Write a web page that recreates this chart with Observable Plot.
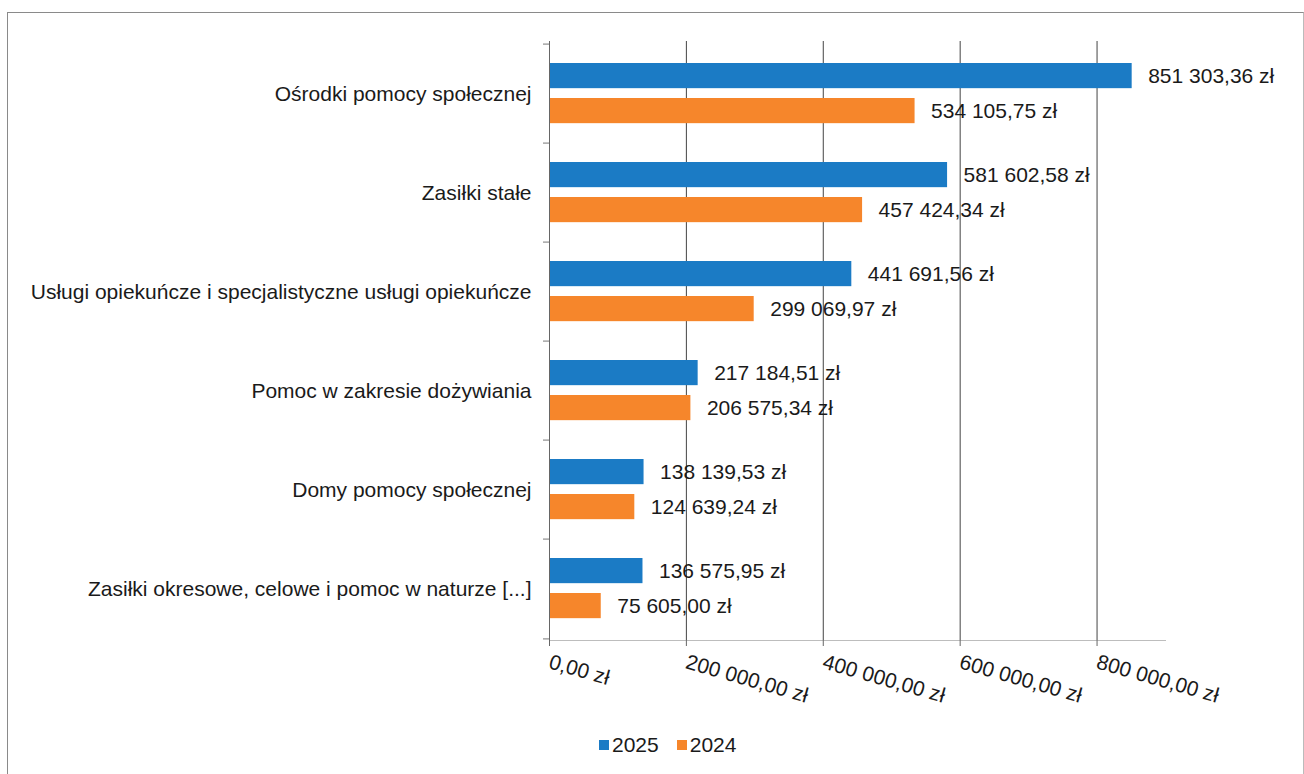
<!DOCTYPE html>
<html>
<head>
<meta charset="utf-8">
<script src="https://cdn.jsdelivr.net/npm/d3@7"></script>
<script src="https://cdn.jsdelivr.net/npm/@observablehq/plot@0.6"></script>
<style>
  html, body { margin: 0; padding: 0; background: #fff; }
  body { width: 1304px; height: 774px; position: relative; overflow: hidden; font-family: "Liberation Sans", Arial, sans-serif; }
  #border { position: absolute; left: 7px; top: 12px; width: 1295px; height: 800px; border-left: 1px solid #8a8a8a; border-top: 1px solid #8a8a8a; border-right: 1px solid #bbb; }
  #chart { position: absolute; left: 0; top: 0; }
  #legend { position: absolute; left: 599px; top: 732px; display: flex; gap: 18px; font-size: 21px; line-height: 26px; color: #1a1a1a; }
  .sw { display: flex; align-items: center; gap: 3px; }
  .sq { width: 10px; height: 10px; display: inline-block; }
</style>
</head>
<body>
<div id="border"></div>
<div id="chart"></div>
<div id="legend"></div>
<script>
const categories = [
  "Ośrodki pomocy społecznej",
  "Zasiłki stałe",
  "Usługi opiekuńcze i specjalistyczne usługi opiekuńcze",
  "Pomoc w zakresie dożywiania",
  "Domy pomocy społecznej",
  "Zasiłki okresowe, celowe i pomoc w naturze [...]"
];
const values2025 = [851303.36, 581602.58, 441691.56, 217184.51, 138139.53, 136575.95];
const values2024 = [534105.75, 457424.34, 299069.97, 206575.34, 124639.24, 75605.00];
const seriesNames = ["2025", "2024"];
const seriesColors = ["#1b7bc5", "#f6862b"];
const xTicks = [0, 200000, 400000, 600000, 800000];

const locale = d3.formatLocale({decimal: ",", thousands: " ", grouping: [3], currency: ["", " zł"]});
const fmt = v => locale.format(",.2f")(v) + " zł";

const rows = [];
categories.forEach((c, i) => {
  rows.push({category: c, series: "2025", value: values2025[i]});
  rows.push({category: c, series: "2024", value: values2024[i]});
});
const r25 = rows.filter(d => d.series === "2025");
const r24 = rows.filter(d => d.series === "2024");

const W = 1304, H = 720;
const mT = 41, mB = 80, mL = 549, mR = 139;
const step = (H - mT - mB) / categories.length;
const barH = 26;
const topOff = 19;
const midGap = 9;
const inset25Top = topOff, inset25Bottom = step - topOff - barH;
const inset24Top = topOff + barH + midGap, inset24Bottom = step - inset24Top - barH;
const dy25 = inset25Top + barH / 2 - step / 2;
const dy24 = inset24Top + barH / 2 - step / 2;

const font = '"Liberation Sans", Arial, sans-serif';
const FS = 21;

const chart = Plot.plot({
  width: W, height: H,
  marginTop: mT, marginBottom: mB, marginLeft: mL, marginRight: mR,
  style: {fontFamily: font, fontSize: FS + "px", color: "#1a1a1a", background: "transparent"},
  x: {domain: [0, 900000], label: null},
  y: {domain: categories, padding: 0, label: null},
  marks: [
    Plot.gridX(xTicks, {stroke: "#444", strokeOpacity: 1, strokeWidth: 1}),
    Plot.frame({anchor: "bottom", stroke: "#bdbdbd"}),
    Plot.axisX(xTicks, {tickSize: 6, tickPadding: 15, tickRotate: 16, stroke: "#666", tickFormat: fmt, fontSize: FS, label: null}),
    Plot.axisY({tickSize: 0, tickPadding: 18, fontSize: FS, label: null}),
    Plot.axisY(categories, {tickSize: 6, tickFormat: () => "", dy: -step / 2, stroke: "#777", label: null}),
    Plot.axisY([categories[categories.length - 1]], {tickSize: 6, tickFormat: () => "", dy: step / 2, stroke: "#777", label: null}),
    Plot.barX(r25, {x: "value", y: "category", fill: seriesColors[0], insetTop: inset25Top, insetBottom: inset25Bottom}),
    Plot.barX(r24, {x: "value", y: "category", fill: seriesColors[1], insetTop: inset24Top, insetBottom: inset24Bottom}),
    Plot.ruleX([0], {stroke: "#666"}),
    Plot.text(r25, {x: "value", y: "category", text: d => fmt(d.value), dx: 16, dy: dy25, textAnchor: "start", fill: "#1a1a1a", fontSize: FS}),
    Plot.text(r24, {x: "value", y: "category", text: d => fmt(d.value), dx: 16, dy: dy24, textAnchor: "start", fill: "#1a1a1a", fontSize: FS})
  ]
});
document.getElementById("chart").appendChild(chart);

const lg = document.getElementById("legend");
seriesNames.forEach((s, i) => {
  const item = document.createElement("div");
  item.className = "sw";
  const sq = document.createElement("span");
  sq.className = "sq";
  sq.style.background = seriesColors[i];
  const t = document.createElement("span");
  t.textContent = s;
  item.appendChild(sq); item.appendChild(t);
  lg.appendChild(item);
});
</script>
</body>
</html>
